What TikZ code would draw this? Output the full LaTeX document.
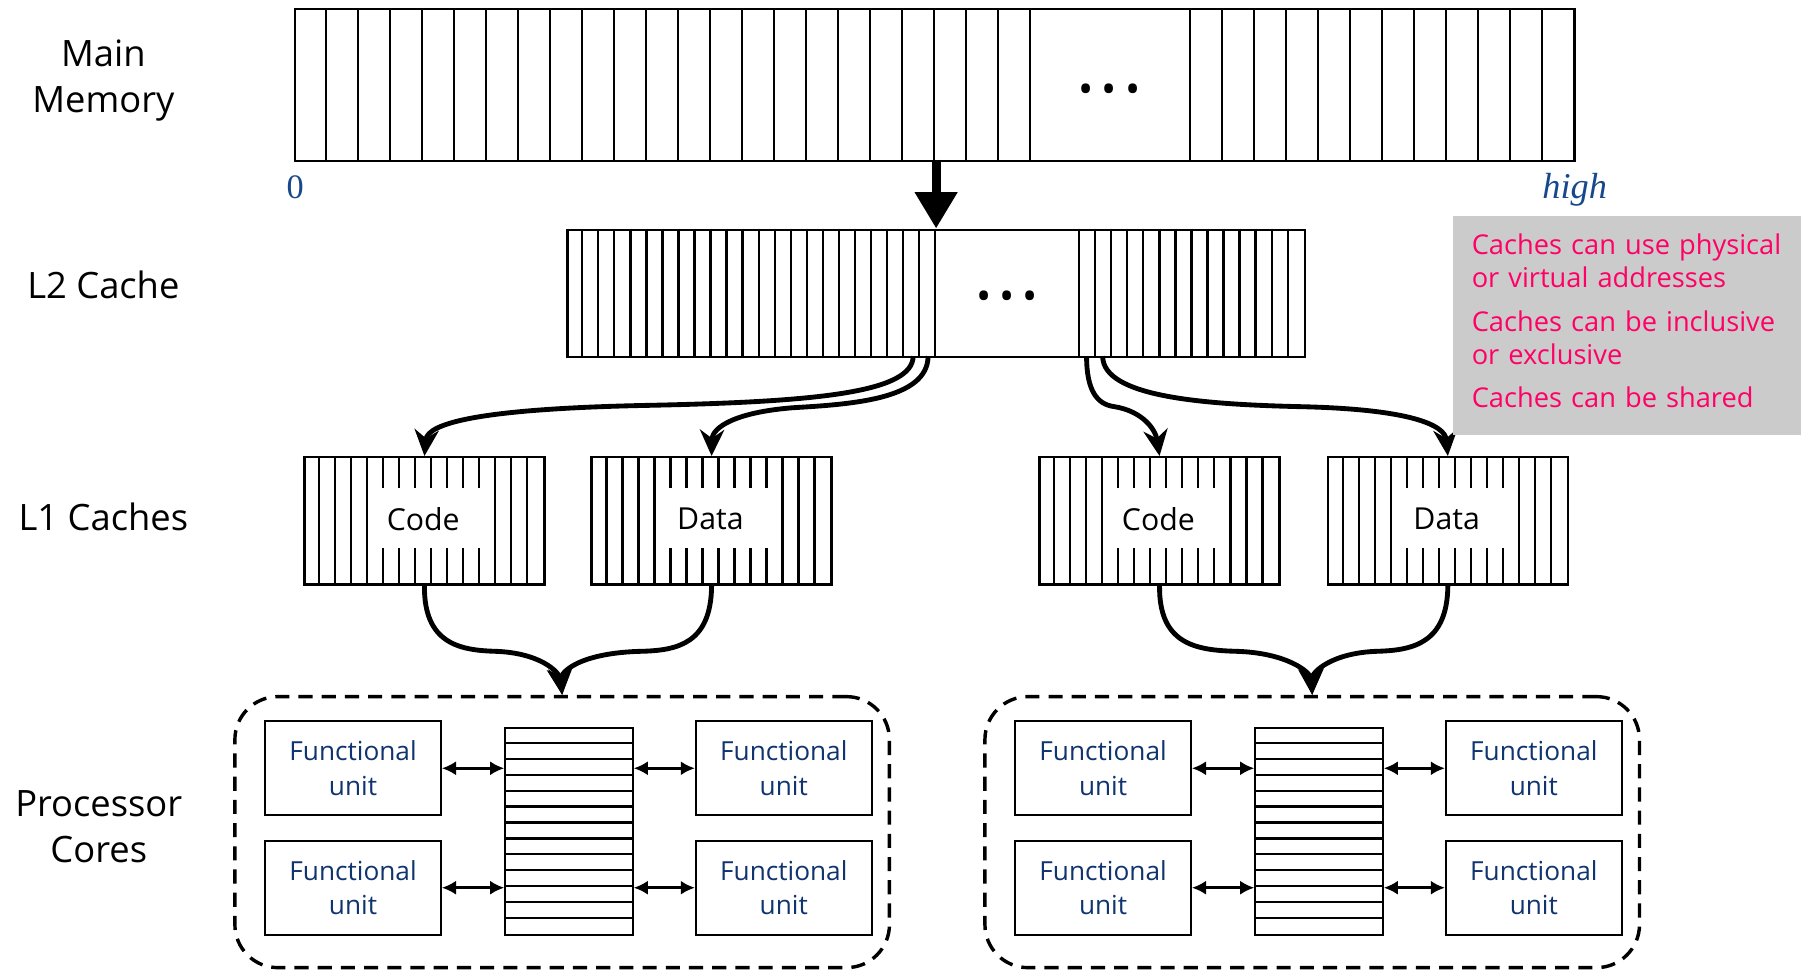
\documentclass[tikz,border=0pt]{standalone}
\usepackage{fontspec}
\setmainfont{Open Sans}
\newfontfamily\numfont{Liberation Serif}
\usetikzlibrary{arrows.meta,calc}

\definecolor{fublue}{RGB}{16,52,110}
\definecolor{axisblue}{RGB}{24,72,140}
\definecolor{notered}{RGB}{255,0,102}
\definecolor{notegray}{RGB}{203,203,203}

\tikzset{
  cellbox/.style={draw, line width=1.2pt, inner sep=0pt, anchor=north west},
  cellline/.style={line width=1.1pt},
  level/.style={font=\fontsize{18}{23}\selectfont, align=center},
  link/.style={line width=2.4pt, -{Stealth[length=13pt,width=12pt]}},
  fetch/.style={line width=4.5pt, -{Triangle[length=18pt,width=20pt]}},
  fu/.style={draw, line width=1pt, inner sep=0pt, anchor=north west, minimum width=3.06cm, minimum height=1.64cm, align=center, text=fublue, font=\fontsize{13}{17}\selectfont},
  bus/.style={line width=1.3pt, {Latex[length=7pt,width=7pt]}-{Latex[length=7pt,width=7pt]}},
  core/.style={draw, line width=1.7pt, dash pattern=on 7pt off 4.5pt, rounded corners=0.75cm, inner sep=0pt, anchor=north west, minimum width=11.4cm, minimum height=4.72cm},
  dots/.style={font=\fontsize{20}{20}\selectfont},
}

\begin{document}
\begin{tikzpicture}[x=0.02cm, y=-0.02cm]
\useasboundingbox (0,0) rectangle (1568,845);

% level labels
\node[level] (lmem) at (90,70) {Main\\Memory};
\node[level] (ltwo) at (90,248) {L2 Cache};
\node[level] (lone) at (90,450) {L1 Caches};
\node[level] (lcore) at (86,720) {Processor\\Cores};

% main memory
\node[cellbox, minimum width=22.28cm, minimum height=2.64cm] (mem) at (256,7) {};
\foreach \i in {1,...,23,28,29,...,39}
  \draw[cellline] (256+\i*27.85,7) -- ++(0,132);
\node[dots] (memdots) at (966,82) {\textbullet\kern4pt\textbullet\kern4pt\textbullet};
\node[font=\numfont\fontsize{17}{17}\selectfont, text=axisblue] (lo) at (257,163) {0};
\node[font=\numfont\itshape\fontsize{18}{18}\selectfont, text=axisblue] (hi) at (1371,165) {high};

% L2 cache
\node[cellbox, minimum width=12.84cm, minimum height=2.22cm] (l2) at (493,199) {};
\foreach \i in {1,...,23,32,33,...,45}
  \draw[cellline] (493+\i*13.957,199) -- ++(0,111);
\node[dots] (l2dots) at (877,262) {\textbullet\kern4pt\textbullet\kern4pt\textbullet};

\coordinate (memout) at (815,139);
\draw[fetch] (memout) -- (memout |- l2.north);

% L1 caches
\foreach \x/\n/\t in {264/code1/Code, 514/data1/Data, 904/code2/Code, 1155/data2/Data} {
  \node[cellbox, minimum width=4.18cm, minimum height=2.22cm] (\n) at (\x,397) {};
  \foreach \i in {1,2,3,4,12,13,14}
    \draw[cellline] (\x+\i*13.933,397) -- ++(0,111);
  \foreach \i in {5,...,11} {
    \draw[cellline] (\x+\i*13.933,397) -- ++(0,28);
    \draw[cellline] (\x+\i*13.933,508) -- ++(0,-31);
  }
  \node[font=\fontsize{15}{15}\selectfont] (\n-t) at (\x+104.5,452) {\t};
}

% L2 -> L1
\coordinate (l2a) at (795,310);
\coordinate (l2b) at (808,310);
\coordinate (l2c) at (946,310);
\coordinate (l2d) at (960,310);
\draw[link] (l2a) .. controls (795,342) and (710,350) .. (560,353) .. controls (420,356) and (372,368) .. (code1.north);
\draw[link] (l2b) .. controls (808,348) and (740,352) .. (690,355) .. controls (640,359) and (620,372) .. (data1.north);
\draw[link] (l2c) .. controls (946,340) and (955,352) .. (970,354) .. controls (995,358) and (1006,374) .. (code2.north);
\draw[link] (l2d) .. controls (960,346) and (1050,352) .. (1130,354) .. controls (1228,356) and (1258,370) .. (data2.north);

% processor cores
\foreach \x/\n in {203/core1, 856/core2} {
  \node[core] (\n) at (\x,605) {};
  \node[fu] (\n-tl) at (\x+27,627) {Functional\\unit};
  \node[fu] (\n-bl) at (\x+27,731) {Functional\\unit};
  \node[fu] (\n-tr) at (\x+402,627) {Functional\\unit};
  \node[fu] (\n-br) at (\x+402,731) {Functional\\unit};
  \node[cellbox, line width=1pt, minimum width=2.22cm, minimum height=3.6cm] (\n-reg) at (\x+236,633) {};
  \foreach \i in {1,...,12}
    \draw[cellline] (\x+236,633+\i*13.846) -- ++(111,0);
  \draw[bus] (\n-tl.east) -- (\n-tl.east -| \n-reg.west);
  \draw[bus] (\n-bl.east) -- (\n-bl.east -| \n-reg.west);
  \draw[bus] (\n-tr.west -| \n-reg.east) -- (\n-tr.west);
  \draw[bus] (\n-br.west -| \n-reg.east) -- (\n-br.west);
}

% L1 -> cores
\draw[link] (code1.south) .. controls (369,560) and (400,566) .. (430,567) .. controls (470,568) and (487,585) .. (core1.north);
\draw[link] (data1.south) .. controls (619,560) and (590,566) .. (560,567) .. controls (505,568) and (488,585) .. (core1.north);
\draw[link] (code2.south) .. controls (1009,560) and (1040,566) .. (1075,567) .. controls (1120,568) and (1141,585) .. (core2.north);
\draw[link] (data2.south) .. controls (1260,560) and (1230,566) .. (1200,567) .. controls (1160,568) and (1142,585) .. (core2.north);

% note
\node[fill=notegray, anchor=north west, minimum width=6.06cm, minimum height=3.8cm, text width=5.42cm, inner xsep=0.32cm, align=left, text=notered, font=\fontsize{13.5}{16.5}\selectfont] (note) at (1265,188)
  {Caches can use physical\\or virtual addresses\\[5pt]Caches can be inclusive\\or exclusive\\[5pt]Caches can be shared\rule[-4.5pt]{0pt}{0pt}};
\end{tikzpicture}
\end{document}
